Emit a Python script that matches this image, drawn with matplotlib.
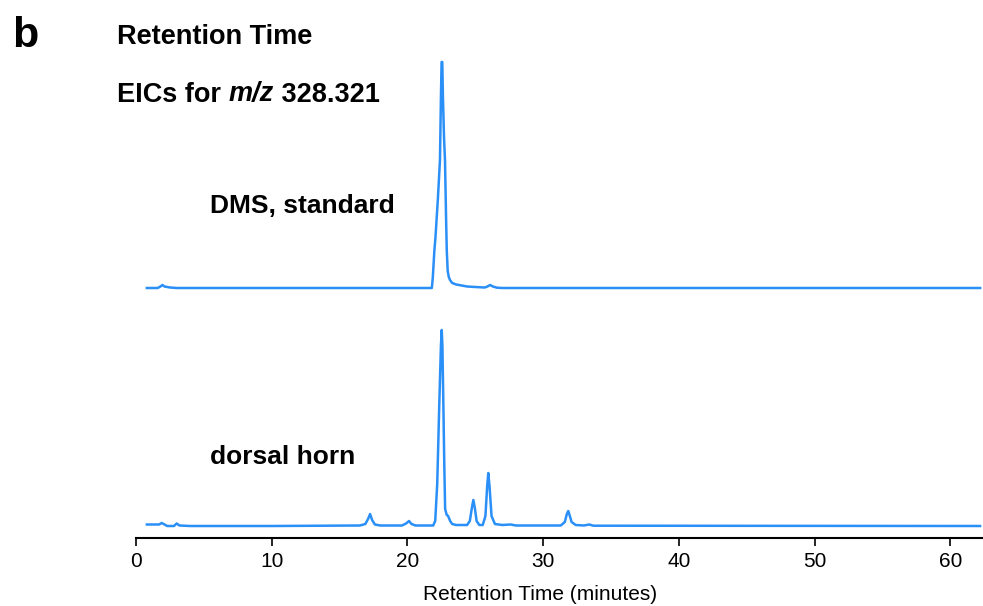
import matplotlib
matplotlib.use("Agg")
import matplotlib.pyplot as plt

plt.rcParams['font.family'] = ['Liberation Sans', 'DejaVu Sans']

# DMS standard trace (retention time in minutes, relative intensity)
dms_time = [0.8, 1.6, 1.8, 1.95, 2.1, 2.5, 3.0, 10.0, 21.0, 21.8, 21.87, 21.99,
            22.07, 22.25, 22.40, 22.47, 22.52, 22.57, 22.62, 22.70, 22.77, 22.85,
            22.90, 22.97, 23.05, 23.14, 23.3, 23.6, 24.0, 24.4, 25.0, 25.7, 25.9,
            26.09, 26.3, 26.6, 27.0, 40.0, 62.2]
dms_int = [0, 0, 1.5, 3, 1.5, 0.5, 0, 0, 0, 0, 10, 38,
           51, 90, 128, 190, 226, 226, 190, 150, 128, 70,
           38, 17, 11, 8, 5, 3.5, 2.5, 1.5, 1, 0.5, 1.5,
           3, 1.5, 0.3, 0, 0, 0]

# Dorsal horn trace
dh_time = [0.8, 1.7, 1.9, 2.1, 2.3, 2.8, 3.0, 3.2, 4.0, 10.0, 16.5, 16.9, 17.1,
           17.25, 17.4, 17.6, 18.0, 19.6, 19.9, 20.12, 20.3, 20.6, 21.9, 22.05,
           22.2, 22.35, 22.47, 22.53, 22.58, 22.65, 22.72, 22.78, 22.9, 23.0,
           23.15, 23.3, 23.6, 24.4, 24.6, 24.75, 24.86, 24.97, 25.1, 25.3, 25.55,
           25.75, 25.88, 25.96, 26.05, 26.2, 26.45, 27.0, 27.6, 28.0, 31.3, 31.6,
           31.75, 31.85, 31.95, 32.1, 32.4, 33.0, 33.4, 33.7, 62.2]
dh_int = [1.5, 1.5, 3, 1.5, 0, 0, 2.5, 0.5, 0, 0, 0.5, 2, 7,
          12, 6, 1.5, 0.5, 0.5, 2.5, 5, 2, 0.5, 0.5, 5,
          43, 122, 180, 196, 180, 122, 60, 17, 11, 10,
          5, 2, 1, 1, 5, 18, 26, 18, 5, 1, 1,
          10, 40, 53, 40, 10, 2, 1, 1.5, 0.5, 0.5, 4,
          12, 15, 11, 4, 1, 0.5, 1.5, 0.3, 0]

xticks = [0, 10, 20, 30, 40, 50, 60]
trace_color = '#2a8ff7'

W, H = 983, 606
fig = plt.figure(figsize=(W / 100, H / 100), dpi=100)
ax = fig.add_axes([136 / W, 1 - 538 / H, (983 - 136) / W, (538 - 55) / H])

top_offset = 538 - 288
bot_offset = 538 - 526
ax.plot(dms_time, [v + top_offset for v in dms_int], color=trace_color, lw=1.8,
        solid_joinstyle='round')
ax.plot(dh_time, [v + bot_offset for v in dh_int], color=trace_color, lw=1.8,
        solid_joinstyle='round')

ax.set_xlim(0, 847 / 13.57)
ax.set_ylim(0, 483)
for s in ['top', 'right', 'left']:
    ax.spines[s].set_visible(False)
ax.spines['bottom'].set_linewidth(1.5)
ax.set_yticks([])
ax.set_xticks(xticks)
ax.set_xticklabels([str(t) for t in xticks])
ax.tick_params(axis='x', direction='out', length=6, width=1.2, pad=4, labelsize=15)

fig.text(540 / W, 1 - 594 / H, 'Retention Time (minutes)', fontsize=15,
         ha='center', va='center')

fig.text(12 / W, 1 - 47 / H, 'b', fontsize=31, fontweight='bold', va='baseline')
fig.text(117 / W, 1 - 44 / H, 'Retention Time', fontsize=19.5, fontweight='bold', va='baseline')

# EICs for m/z 328.321 built from pieces (italic m/z)
renderer = fig.canvas.get_renderer()
x = 117.0
for piece, style in [('EICs for ', 'normal'), ('m/z', 'italic'), (' 328.321', 'normal')]:
    t = fig.text(x / W, 1 - 101.5 / H, piece, fontsize=19.5, fontweight='bold',
                 fontstyle=style, va='baseline')
    bb = t.get_window_extent(renderer=renderer)
    x += bb.width

fig.text(210 / W, 1 - 213 / H, 'DMS, standard', fontsize=19, fontweight='bold', va='baseline')
fig.text(210 / W, 1 - 464 / H, 'dorsal horn', fontsize=19, fontweight='bold', va='baseline')

fig.savefig('out.png', dpi=100)
